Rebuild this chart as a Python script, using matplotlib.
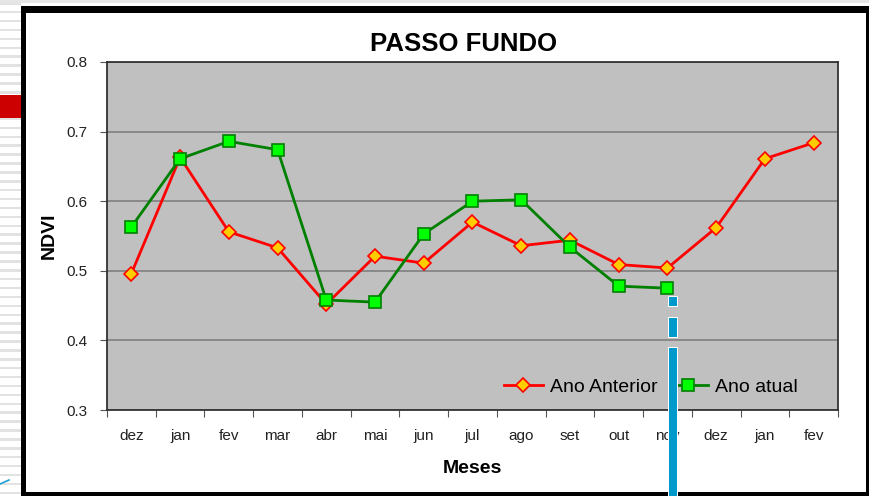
import numpy as np
import matplotlib.pyplot as plt
from matplotlib.patches import Rectangle
from matplotlib.lines import Line2D

plt.rcParams['font.family'] = ['Liberation Sans', 'DejaVu Sans']

# data
meses = ["dez", "jan", "fev", "mar", "abr", "mai", "jun", "jul",
         "ago", "set", "out", "nov", "dez", "jan", "fev"]
ano_anterior = [0.496, 0.663, 0.556, 0.533, 0.452, 0.521, 0.511, 0.570,
                0.536, 0.544, 0.509, 0.504, 0.562, 0.661, 0.684]
ano_atual = [0.563, 0.661, 0.686, 0.674, 0.458, 0.455, 0.553, 0.600,
             0.602, 0.534, 0.478, 0.475]
yticks = [0.3, 0.4, 0.5, 0.6, 0.7, 0.8]

W, H = 869, 496
fig = plt.figure(figsize=(W / 100, H / 100), dpi=100)


def fx(px):
    return px / W


def fy(py):
    return 1 - py / H


def box(x0, y0, x1, y1, **kw):
    # rectangle given in pixel coords (top-left origin)
    fig.patches.append(Rectangle((fx(x0), fy(y1)), fx(x1) - fx(x0), fy(y0) - fy(y1),
                                 transform=fig.transFigure, figure=fig, **kw))


# slide background: striped strip on the left, black frame
for yy in np.arange(2, H, 8.9):
    box(0, yy, 21, yy + 2.5, color="#e2e2e2", lw=0)
box(0, 0, W, 3, color="#e6e6e6", lw=0)
box(0, 95, 21, 118, color="#cc0000", lw=0)
box(21, 6, W, H, color="black", lw=0)
box(26, 13, 866, 492, color="white", lw=0)
fig.lines.append(Line2D([fx(0), fx(9)], [fy(484), fy(480)], color="#1aa0d8", lw=1.2,
                        transform=fig.transFigure))

ax = fig.add_axes([fx(107), fy(410), fx(838) - fx(107), fy(62) - fy(410)])
ax.set_facecolor("#c0c0c0")
ax.set_zorder(2)

x = np.arange(len(meses))
ax.plot(x, ano_anterior, color="#ff0000", lw=2, marker="D", ms=7,
        mfc="#ffcc00", mec="#ff0000", mew=1.2, label="Ano Anterior", zorder=3)
ax.plot(x[:len(ano_atual)], ano_atual, color="#008000", lw=2, marker="s", ms=8,
        mfc="#00ff00", mec="#008000", mew=1.2, label="Ano atual", zorder=3)

ax.set_xlim(-0.5, len(meses) - 0.5)
ax.set_ylim(0.3, 0.8)
ax.set_yticks(yticks)
ax.set_yticklabels([f"{v:.1f}" for v in yticks], fontsize=11, color="#222222")
ax.yaxis.grid(True, color="#808080", lw=1.2)
ax.set_axisbelow(True)

ax.set_xticks(np.arange(-0.5, len(meses), 1))
ax.set_xticklabels([])
ax.set_xticks(x, minor=True)
ax.set_xticklabels(meses, minor=True, fontsize=11, color="#222222")
ax.tick_params(axis="x", which="minor", length=0, pad=14)
ax.tick_params(axis="x", which="major", length=5, color="#555555", direction="out")
ax.tick_params(axis="y", length=5, color="#555555", pad=9)

for s in ax.spines.values():
    s.set_color("#333333")
    s.set_linewidth(1.3)

ax.set_title("PASSO FUNDO", fontsize=18.5, fontweight="bold", pad=8, x=0.488)
ax.set_xlabel("Meses", fontsize=14, fontweight="bold", labelpad=12)
ax.set_ylabel("NDVI", fontsize=14, fontweight="bold", labelpad=6)

ax.legend(loc="center left", bbox_to_anchor=(0.543, 0.066), ncol=2, frameon=False,
          fontsize=14, handlelength=2.0, handletextpad=0.35, columnspacing=0.6,
          borderaxespad=0, borderpad=0)

# blue dashed marker line overlaid on the slide
for y0, y1 in [(297, 306), (318, 337), (348, 500)]:
    box(668, y0 - 1, 678, y1 + 1, color="white", lw=0, zorder=10)
    box(669, y0, 677, y1, color="#0099cc", lw=0, zorder=11)

fig.savefig("out.png", dpi=100)
